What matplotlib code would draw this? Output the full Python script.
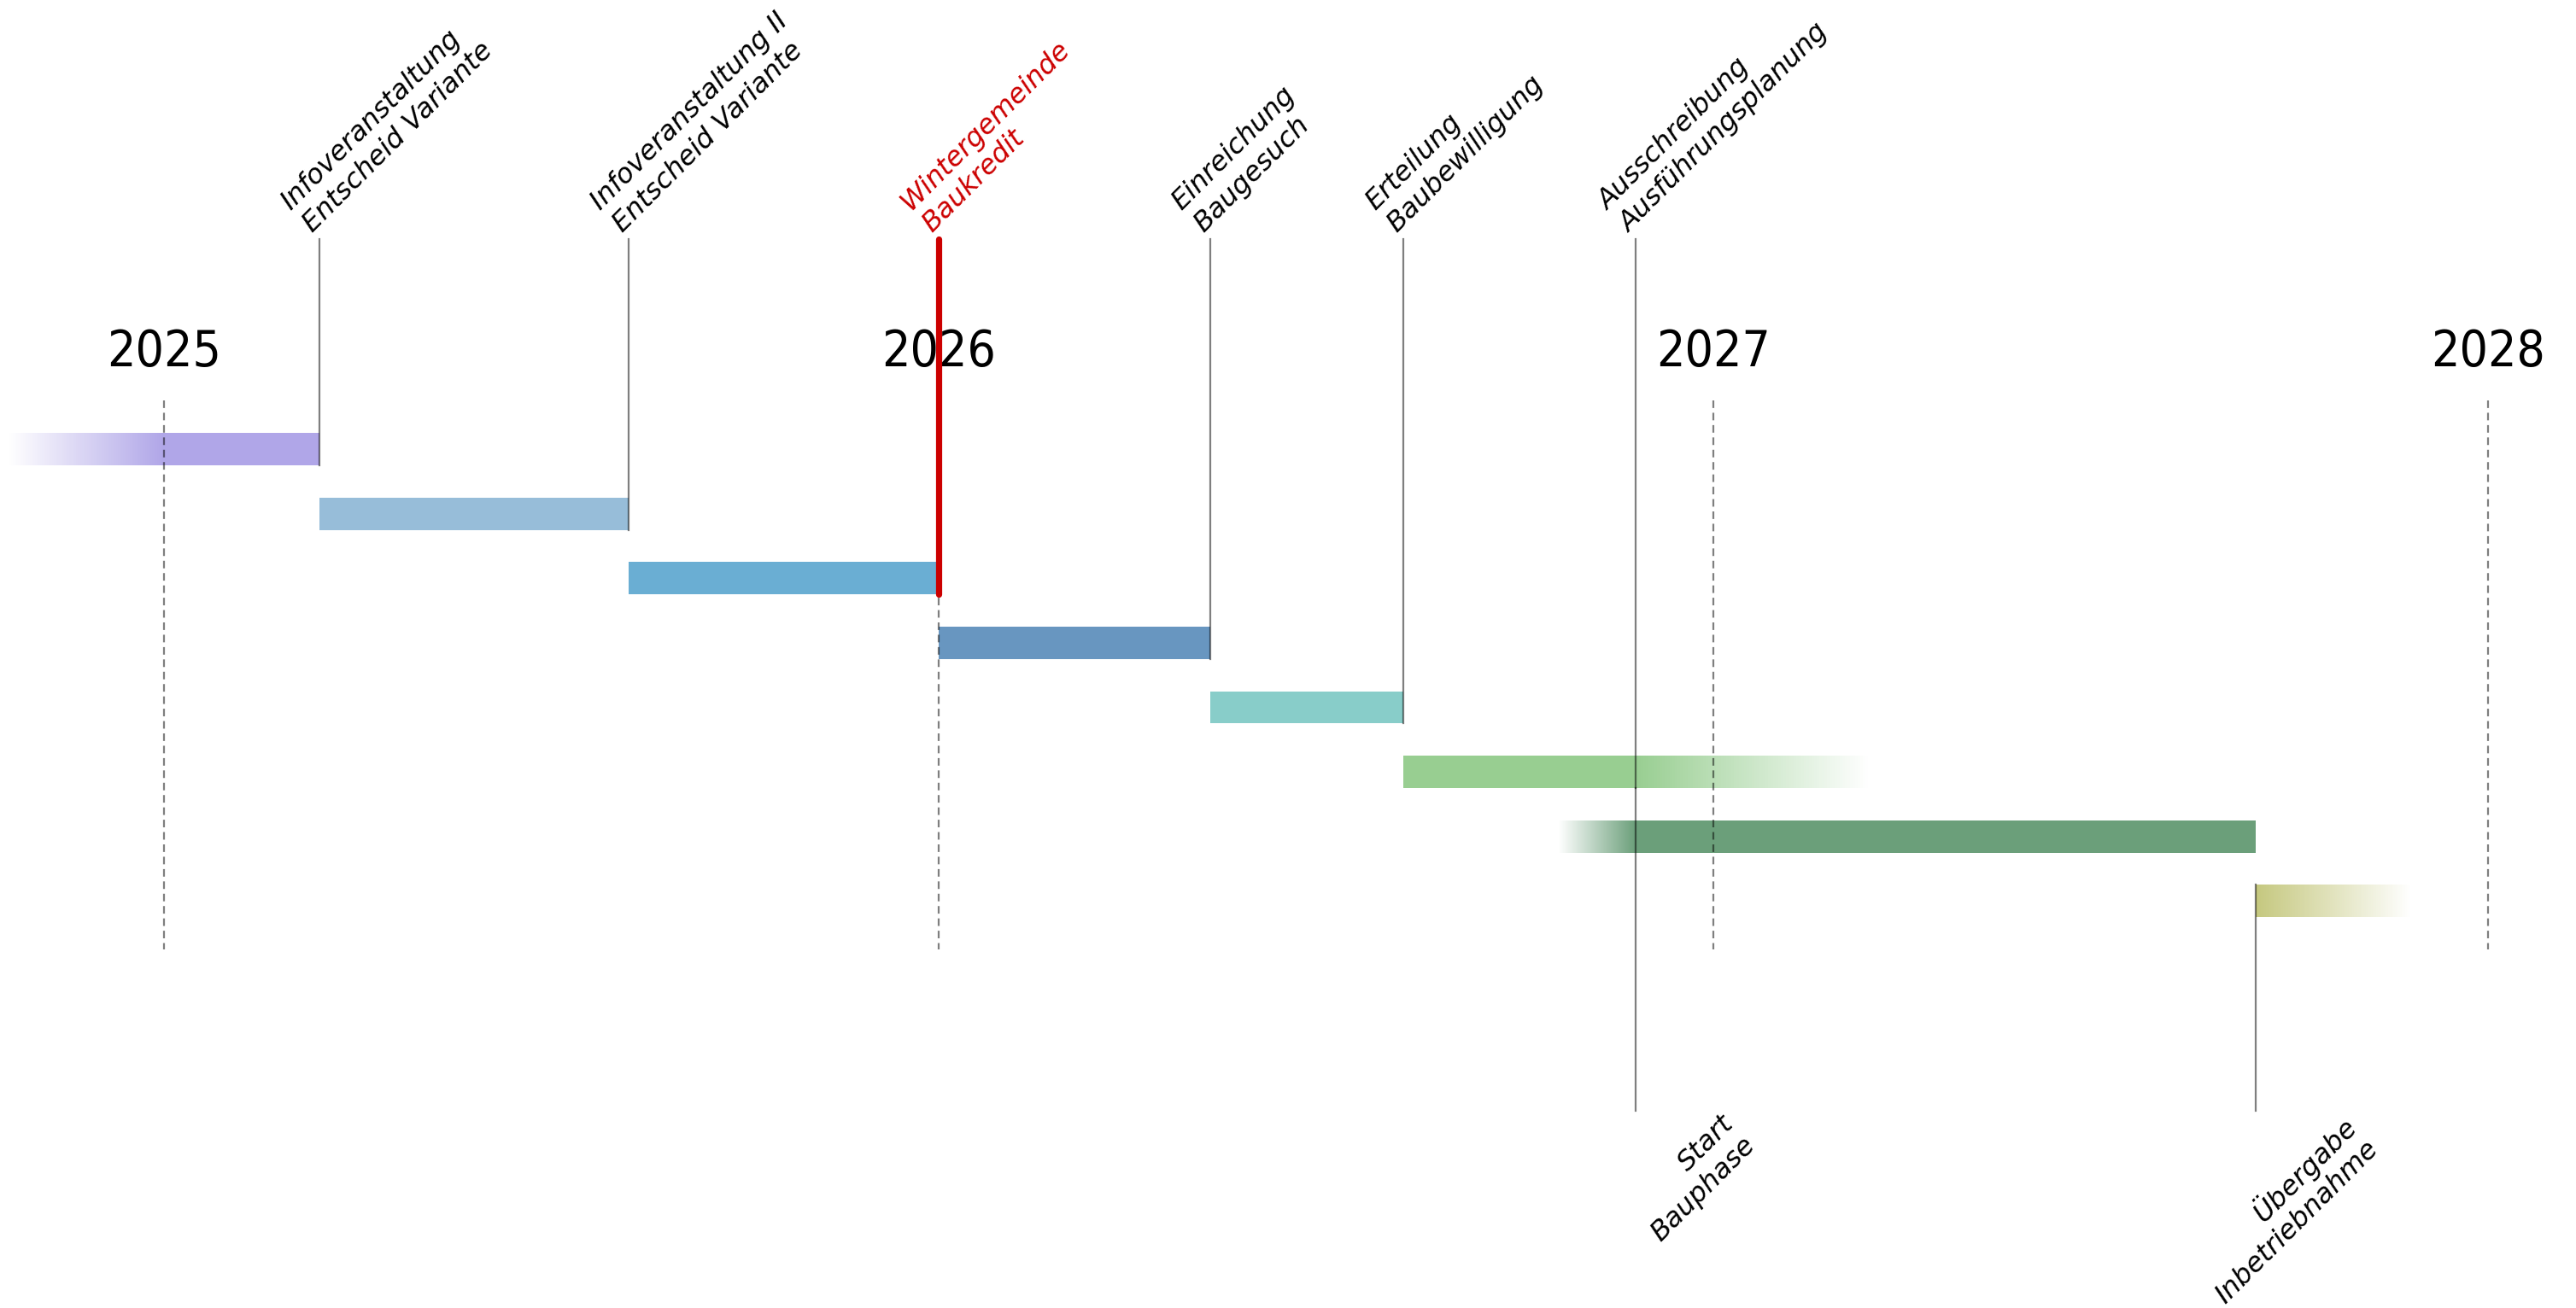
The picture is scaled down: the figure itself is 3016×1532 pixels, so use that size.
import numpy as np
import matplotlib
matplotlib.use("Agg")
import matplotlib.pyplot as plt
from matplotlib.colors import to_rgba

# --- data (decimal years) ---------------------------------------------------
years = [2025, 2026, 2027, 2028]

phase_start = [2025.0, 2025.2, 2025.6, 2026.0, 2026.35, 2026.6, 2026.9, 2027.7]
phase_end = [2025.2, 2025.6, 2026.0, 2026.35, 2026.6, 2026.9, 2027.7, 2027.7]
fade_in = [0.2, 0.0, 0.0, 0.0, 0.0, 0.0, 0.1, 0.0]   # soft start before phase_start
fade_out = [0.0, 0.0, 0.0, 0.0, 0.0, 0.3, 0.0, 0.2]  # soft end after phase_end
phase_colors = ["#b0a6e8", "#97bdd9", "#6aaed3", "#6896c0",
                "#88cdc9", "#98ce91", "#6b9f7a", "#c5c87e"]

top_labels = ["Infoveranstaltung\nEntscheid Variante",
              "Infoveranstaltung II\nEntscheid Variante",
              "Wintergemeinde\nBaukredit",
              "Einreichung\nBaugesuch",
              "Erteilung\nBaubewilligung",
              "Ausschreibung\nAusführungsplanung"]
top_dates = [2025.2, 2025.6, 2026.0, 2026.35, 2026.6, 2026.9]
top_rows = [0, 1, 2, 3, 4, 5]          # line runs down to the bottom of this row
top_highlight = [False, False, True, False, False, False]

bottom_labels = ["Start\nBauphase", "Übergabe\nInbetriebnahme"]
bottom_dates = [2026.9, 2027.7]
bottom_rows = [5, 7]                   # line starts at this row edge

BAR_H = 0.5
LINE_TOP = -3.25
LINE_BOTTOM = 10.25
RED = "#cc0000"

fig = plt.figure(figsize=(15.08, 7.66), dpi=200)
ax = fig.add_axes([0, 0, 1, 1])
ax.set_xlim(2024.788, 2028.1136)
ax.set_ylim(13.307, -6.958)
ax.axis("off")


def fade(ax, row, x0, x1, color, rising, n=90):
    edges = np.linspace(x0, x1, n + 1)
    a = (np.arange(n) + 0.5) / n
    if not rising:
        a = a[::-1]
    cols = [to_rgba(color, v) for v in a]
    ax.barh([row] * n, np.diff(edges), left=edges[:-1], height=BAR_H,
            color=cols, linewidth=0, zorder=2)


# phases
for i in range(len(phase_start)):
    s, e, c = phase_start[i], phase_end[i], phase_colors[i]
    if e > s:
        ax.barh(i, e - s, left=s, height=BAR_H, color=c, linewidth=0, zorder=2)
    if fade_in[i] > 0:
        fade(ax, i, s - fade_in[i], s, c, rising=True)
    if fade_out[i] > 0:
        fade(ax, i, e, e + fade_out[i], c, rising=False)

# year markers
for y in years:
    ax.plot([y, y], [-0.75, 7.75], color="black", alpha=0.5, lw=0.8,
            ls=(0, (4, 2.5)), zorder=3)
    ax.text(y, -1.5, str(y), ha="center", va="center", fontsize=21,
            family="DejaVu Sans", fontstretch="condensed", zorder=4)

# milestones above
for lab, d, r, hi in zip(top_labels, top_dates, top_rows, top_highlight):
    if hi:
        ax.plot([d, d], [LINE_TOP, r + BAR_H / 2], color=RED, lw=2.6,
                solid_capstyle="round", zorder=5)
    else:
        ax.plot([d, d], [LINE_TOP, r + BAR_H / 2], color="black", alpha=0.5,
                lw=0.8, zorder=4)
    ax.annotate(lab, xy=(d, LINE_TOP), xytext=(-1, 1),
                textcoords="offset points", rotation=45, rotation_mode="anchor",
                ha="left", va="bottom", fontsize=11.5, style="italic",
                color=RED if hi else "black")

# milestones below
for lab, d, r in zip(bottom_labels, bottom_dates, bottom_rows):
    y0 = r + BAR_H / 2 if r == 5 else r - BAR_H / 2
    ax.plot([d, d], [y0, LINE_BOTTOM], color="black", alpha=0.5, lw=0.8,
            zorder=4)
    ax.annotate(lab, xy=(d, LINE_BOTTOM), xytext=(35.5, 0),
                textcoords="offset points", rotation=45, rotation_mode="anchor",
                ha="right", va="top", fontsize=11.5, style="italic")

fig.savefig("out.png", dpi=200, facecolor="white")
